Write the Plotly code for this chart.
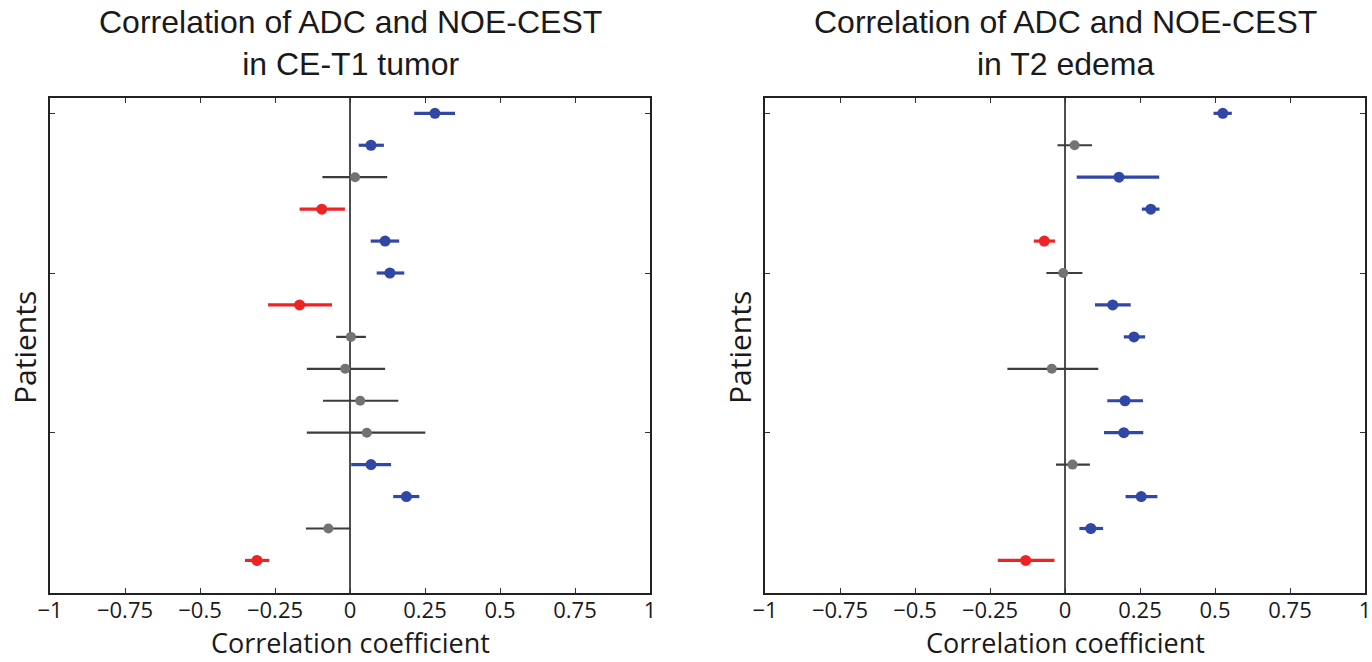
import plotly.graph_objects as go

patients = list(range(1, 16))

# CE-T1 tumor: correlation coefficient and confidence interval bounds
tumor_r = [0.283, 0.070, 0.017, -0.094, 0.117, 0.133, -0.168, 0.003, -0.016, 0.034, 0.056, 0.070, 0.188, -0.072, -0.310]
tumor_lo = [0.214, 0.029, -0.092, -0.168, 0.069, 0.089, -0.273, -0.046, -0.144, -0.090, -0.144, 0.004, 0.144, -0.147, -0.350]
tumor_hi = [0.350, 0.113, 0.124, -0.017, 0.164, 0.181, -0.060, 0.053, 0.117, 0.161, 0.251, 0.137, 0.231, 0.002, -0.269]

# T2 edema
edema_r = [0.526, 0.032, 0.180, 0.286, -0.069, -0.006, 0.159, 0.230, -0.044, 0.200, 0.196, 0.025, 0.254, 0.086, -0.131]
edema_lo = [0.495, -0.025, 0.039, 0.256, -0.104, -0.062, 0.100, 0.196, -0.192, 0.141, 0.130, -0.030, 0.202, 0.048, -0.224]
edema_hi = [0.556, 0.090, 0.314, 0.315, -0.033, 0.058, 0.219, 0.267, 0.111, 0.260, 0.261, 0.083, 0.308, 0.127, -0.035]

titles = ["Correlation of ADC and NOE-CEST<br>in CE-T1 tumor", "Correlation of ADC and NOE-CEST<br>in T2 edema"]
x_title = "Correlation coefficient"
y_title = "Patients"
x_ticks = [-1, -0.75, -0.5, -0.25, 0, 0.25, 0.5, 0.75, 1]
x_tick_text = ["\u22121", "\u22120.75", "\u22120.5", "\u22120.25", "0", "0.25", "0.5", "0.75", "1"]
y_ticks = [1, 6, 11]

BLUE = "#3047a6"
RED = "#ee2424"
GRAY_DOT = "#737373"
GRAY_BAR = "#3c3c3c"

W, H = 1372, 662
PLOT_TOP, PLOT_BOT = 98, 593
PANELS_PX = [(50, 650), (765, 1365)]

fig = go.Figure()

panels = [(tumor_r, tumor_lo, tumor_hi, "x", "y"), (edema_r, edema_lo, edema_hi, "x2", "y2")]
for r, lo, hi, xa, ya in panels:
    groups = {"pos": [], "neg": [], "ns": []}
    for i, (v, l, h) in enumerate(zip(r, lo, hi)):
        if l > 0:
            groups["pos"].append(i)
        elif h < 0:
            groups["neg"].append(i)
        else:
            groups["ns"].append(i)
    styles = {
        "pos": (BLUE, BLUE, 3.2, 11),
        "neg": (RED, RED, 3.2, 11),
        "ns": (GRAY_DOT, GRAY_BAR, 2.2, 10),
    }
    for key, idx in groups.items():
        if not idx:
            continue
        dot_c, bar_c, th, ms = styles[key]
        fig.add_trace(go.Scatter(
            x=[r[i] for i in idx],
            y=[patients[i] for i in idx],
            mode="markers",
            marker=dict(color=dot_c, size=ms, line=dict(width=0)),
            error_x=dict(type="data", symmetric=False,
                         array=[hi[i] - r[i] for i in idx],
                         arrayminus=[r[i] - lo[i] for i in idx],
                         color=bar_c, thickness=th, width=0),
            xaxis=xa, yaxis=ya, showlegend=False, hoverinfo="x+y",
        ))

FONT = "Open Sans, Noto Sans, sans-serif"
tick_font = dict(family=FONT, size=22, color="#1a1a1a")

common_x = dict(range=[-1, 1], tickvals=x_ticks, ticktext=x_tick_text, ticks="inside", ticklen=5,
                tickcolor="#333", tickwidth=1, showline=True, linecolor="#222", linewidth=1.6,
                mirror="ticks", showgrid=False, zeroline=False, tickfont=tick_font,
                ticklabelstandoff=-3, automargin=False, fixedrange=True)
common_y = dict(range=[16.02, 0.52], tickvals=y_ticks, ticktext=["", "", ""], ticks="inside", ticklen=5,
                tickcolor="#333", tickwidth=1, showline=True, linecolor="#222", linewidth=1.6,
                mirror="ticks", showgrid=False, zeroline=False, automargin=False, fixedrange=True)

ydom = [1 - PLOT_BOT / H, 1 - PLOT_TOP / H]
fig.update_layout(
    width=W, height=H,
    margin=dict(l=0, r=0, t=0, b=0),
    paper_bgcolor="white", plot_bgcolor="white",
    xaxis=dict(domain=[PANELS_PX[0][0] / W, PANELS_PX[0][1] / W], anchor="y", **common_x),
    yaxis=dict(domain=ydom, anchor="x", **common_y),
    xaxis2=dict(domain=[PANELS_PX[1][0] / W, PANELS_PX[1][1] / W], anchor="y2", **common_x),
    yaxis2=dict(domain=ydom, anchor="x2", **common_y),
)

for xa, ya in [("x", "y"), ("x2", "y2")]:
    fig.add_shape(type="line", x0=0, x1=0, y0=0, y1=1, xref=xa, yref=f"{ya} domain",
                  line=dict(color="#222", width=1.6), layer="below")

title_font = dict(family="Liberation Sans, Arial, sans-serif", size=32, color="#1a1a1a")
for t, (x0, x1) in zip(titles, PANELS_PX):
    xc = (x0 + x1) / 2 / W
    fig.add_annotation(text=t, x=xc, y=1 - 43 / H, xref="paper", yref="paper",
                       showarrow=False, font=title_font, align="center",
                       xanchor="center", yanchor="middle")
    fig.add_annotation(text=x_title, x=xc, y=1 - 642 / H, xref="paper", yref="paper",
                       showarrow=False, font=dict(family=FONT, size=27, color="#1a1a1a"),
                       xanchor="center", yanchor="middle")
    fig.add_annotation(text=y_title, x=(x0 - 25) / W, y=1 - 348 / H, xref="paper", yref="paper",
                       showarrow=False, textangle=-90, font=dict(family=FONT, size=30, color="#1a1a1a"),
                       xanchor="center", yanchor="middle")

fig.write_html("out.html", config={"displayModeBar": False},
               post_script="document.body.style.margin='0';document.body.style.overflow='hidden';")
